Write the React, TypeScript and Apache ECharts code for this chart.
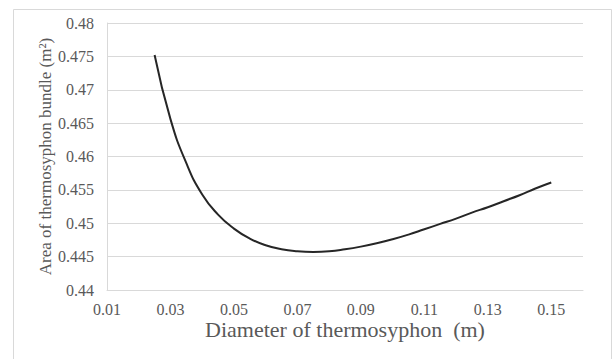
import React, { useEffect, useRef } from "react";
import * as echarts from "echarts";

const diameters = [0.025, 0.03, 0.035, 0.04, 0.045, 0.05, 0.055, 0.06, 0.065, 0.07, 0.075, 0.08, 0.085, 0.09, 0.095, 0.1, 0.105, 0.11, 0.115, 0.12, 0.125, 0.13, 0.135, 0.14, 0.145, 0.15];
const areas = [0.4752, 0.4656, 0.459, 0.4543, 0.4513, 0.4492, 0.4477, 0.4467, 0.4461, 0.4458, 0.4457, 0.4458, 0.4461, 0.4465, 0.447, 0.4476, 0.4483, 0.4491, 0.4499, 0.4507, 0.4516, 0.4524, 0.4533, 0.4542, 0.4552, 0.4561];

const xTitle = "Diameter of thermosyphon  (m)";
const yTitle = "Area of thermosyphon bundle (m²)";

export default function App() {
  const ref = useRef<HTMLDivElement>(null);
  useEffect(() => {
    if (!ref.current) return;
    const chart = echarts.init(ref.current, null, { renderer: "svg" });
    const font = "Liberation Serif, Times New Roman, serif";
    chart.setOption({
      animation: false,
      backgroundColor: "#ffffff",
      textStyle: { fontFamily: font },
      graphic: [
        {
          type: "rect",
          left: 11,
          top: 7,
          shape: { width: 598, height: 380 },
          style: { fill: "none", stroke: "#d9d9d9", lineWidth: 1 },
          silent: true,
        },
      ],
      grid: { left: 107, right: 31, top: 23, bottom: 69, containLabel: false },
      xAxis: {
        type: "value",
        min: 0.01,
        max: 0.16,
        interval: 0.02,
        name: xTitle,
        nameLocation: "middle",
        nameGap: 28,
        nameMoveOverlap: false,
        nameTextStyle: { fontFamily: font, fontSize: 22, color: "#595959" },
        axisLine: { show: true, lineStyle: { color: "#d9d9d9", width: 1 } },
        axisTick: { show: false },
        splitLine: { show: false },
        axisLabel: { fontFamily: font, fontSize: 16, color: "#595959", margin: 11, showMaxLabel: false },
      },
      yAxis: {
        type: "value",
        min: 0.44,
        max: 0.48,
        interval: 0.005,
        name: yTitle,
        nameLocation: "middle",
        nameGap: 53,
        nameMoveOverlap: false,
        nameTextStyle: { fontFamily: font, fontSize: 17, color: "#595959" },
        axisLine: { show: true, lineStyle: { color: "#d9d9d9", width: 1 } },
        axisTick: { show: false },
        splitLine: { show: true, lineStyle: { color: "#d9d9d9", width: 1 } },
        axisLabel: { fontFamily: font, fontSize: 16, color: "#595959", margin: 13 },
      },
      series: [
        {
          type: "line",
          data: diameters.map((d, i) => [d, areas[i]]),
          smooth: true,
          showSymbol: false,
          lineStyle: { color: "#262626", width: 2 },
        },
      ],
    });
    return () => chart.dispose();
  }, []);
  return (
    <div
      ref={ref}
      style={{ position: "fixed", left: 0, top: 0, width: 614, height: 359 }}
    />
  );
}
